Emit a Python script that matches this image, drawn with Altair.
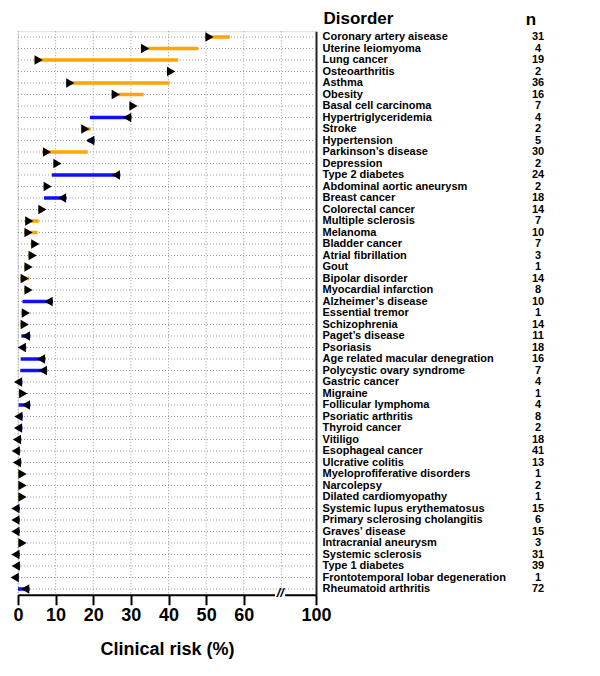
import altair as alt
import pandas as pd

disorders = [
    "Coronary artery aisease", "Uterine leiomyoma", "Lung cancer", "Osteoarthritis",
    "Asthma", "Obesity", "Basal cell carcinoma", "Hypertriglyceridemia", "Stroke",
    "Hypertension", "Parkinson\u2019s disease", "Depression", "Type 2 diabetes",
    "Abdominal aortic aneurysm", "Breast cancer", "Colorectal cancer", "Multiple sclerosis",
    "Melanoma", "Bladder cancer", "Atrial fibrillation", "Gout", "Bipolar disorder",
    "Myocardial infarction", "Alzheimer\u2019s disease", "Essential tremor", "Schizophrenia",
    "Paget\u2019s disease", "Psoriasis", "Age related macular denegration",
    "Polycystic ovary syndrome", "Gastric cancer", "Migraine", "Follicular lymphoma",
    "Psoriatic arthritis", "Thyroid cancer", "Vitiligo", "Esophageal cancer",
    "Ulcrative colitis", "Myeloprofiferative disorders", "Narcolepsy",
    "Dilated cardiomyopathy", "Systemic lupus erythematosus",
    "Primary sclerosing cholangitis", "Graves\u2019 disease", "Intracranial aneurysm",
    "Systemic sclerosis", "Type 1 diabetes", "Frontotemporal lobar degeneration",
    "Rheumatoid arthritis",
]
n_values = [31, 4, 19, 2, 36, 16, 7, 4, 2, 5, 30, 2, 24, 2, 18, 14, 7, 10, 7, 3, 1, 14, 8,
            10, 1, 14, 11, 18, 16, 7, 4, 1, 4, 8, 2, 18, 41, 13, 1, 2, 1, 15, 6, 15, 3, 31,
            39, 1, 72]
# triangle position (baseline risk, %)
baseline = [49.7, 32.6, 4.3, 39.5, 12.7, 24.8, 29.5, 30.2, 16.7, 20.4, 6.5, 9.3, 27.2,
            6.7, 12.9, 5.3, 1.8, 1.6, 3.4, 2.7, 1.6, 0.6, 1.6, 9.3, 0.9, 0.6, 3.3, 2.2,
            7.3, 7.8, 1.2, 0.2, 3.3, 1.3, 1.2, 0.9, 0.6, 0.9, 0.0, 0.0, 0.0, 0.5, 0.5,
            0.5, 0.0, 0.5, 0.6, 0.3, 3.1]
# bar end (risk, %)
risk = [56.3, 47.9, 42.6, 40.5, 40.3, 33.4, 30.5, 19.1, 19.3, 18.5, 18.5, 9.8, 9.0,
        7.2, 6.9, 5.8, 5.5, 5.2, 3.9, 3.0, 1.9, 3.0, 2.0, 1.2, 1.2, 1.0, 0.9, 1.5,
        0.7, 0.6, 0.8, 0.6, 0.2, 0.8, 0.8, 0.5, 0.3, 0.5, 0.3, 0.3, 0.3, 0.2, 0.2,
        0.2, 0.3, 0.2, 0.3, 0.1, 0.0]

grid_vals = [0, 10, 20, 30, 40, 50, 60, 70]
tick_vals = [0, 10, 20, 30, 40, 50, 60, 79.2]
break_lo, break_hi, break_mid = 68.3, 71.0, 69.7

ORANGE = "#FFA500"
BLUE = "#1010FF"
FONT = "Liberation Sans"

df = pd.DataFrame({"disorder": disorders, "n": n_values, "start": baseline, "end": risk})
df["dir"] = ["up" if e >= s else "down" for s, e in zip(baseline, risk)]

W = 298
H = 563.5

xscale = alt.Scale(domain=[0, 79.2], nice=False, zero=False)
xaxis = alt.Axis(
    values=tick_vals, grid=False, title="Clinical risk (%)",
    labelExpr="datum.value > 70 ? '100' : datum.label",
    domainColor="black", domainWidth=2, tickColor="black", tickWidth=2, tickSize=10,
    labelFont=FONT, labelFontSize=18, labelFontWeight="bold", labelColor="black",
    labelPadding=2, labelFlush=False,
    titleFont=FONT, titleFontSize=18, titleFontWeight="bold", titleColor="black",
    titlePadding=16,
)
yaxis = alt.Axis(
    orient="right", ticks=False, grid=False, domainColor="#222222", domainWidth=2,
    labelFont=FONT, labelFontSize=11, labelFontWeight="bold", labelColor="black",
    labelAlign="left", labelPadding=6, labelLimit=320,
    title="Disorder", titleAngle=0, titleAlign="left", titleBaseline="alphabetic",
    titleX=7, titleY=-8, titleFont=FONT, titleFontSize=17, titleFontWeight="bold",
    titleColor="black",
)
y_enc = alt.Y("disorder:N", sort=disorders,
              scale=alt.Scale(domain=disorders, paddingInner=0, paddingOuter=0),
              axis=yaxis)

base = alt.Chart(df)

hgrid = base.mark_rule(color="#9a9a9a", strokeDash=[1, 2], strokeWidth=1).encode(
    y=y_enc, x=alt.value(0), x2=alt.value(W))

vgrid = alt.Chart(pd.DataFrame({"g": grid_vals})).mark_rule(
    color="#9a9a9a", strokeDash=[1, 2], strokeWidth=1).encode(
    x=alt.X("g:Q", scale=xscale, axis=xaxis))

bars = base.mark_rule(strokeWidth=3.5).encode(
    y=y_enc,
    x=alt.X("start:Q", scale=xscale, axis=xaxis),
    x2="end:Q",
    color=alt.Color("dir:N", scale=alt.Scale(domain=["up", "down"], range=[ORANGE, BLUE]),
                    legend=None),
)

tri_up = base.transform_filter("datum.dir == 'up'").mark_point(
    shape="triangle-right", filled=True, color="black", opacity=1, size=90, xOffset=4.5
).encode(y=y_enc, x=alt.X("start:Q", scale=xscale, axis=xaxis))

tri_down = base.transform_filter("datum.dir == 'down'").mark_point(
    shape="triangle-left", filled=True, color="black", opacity=1, size=90, xOffset=-4.5
).encode(y=y_enc, x=alt.X("start:Q", scale=xscale, axis=xaxis))

n_text = base.mark_text(align="center", baseline="middle", font=FONT, fontSize=11,
                        fontWeight="bold", color="black").encode(
    y=y_enc, x=alt.value(520), text="n:N")

brk = alt.Chart(pd.DataFrame({"a": [break_lo], "b": [break_hi], "m": [break_mid]}))
brk_gap = brk.mark_rule(color="white", strokeWidth=5).encode(
    x=alt.X("a:Q", scale=xscale, axis=xaxis), x2="b:Q", y=alt.value(H))
brk_mark = brk.mark_text(text="//", font=FONT, fontSize=13, fontStyle="italic",
                         fontWeight="bold", color="black", baseline="middle").encode(
    x=alt.X("m:Q", scale=xscale, axis=xaxis), y=alt.value(H - 2))

n_head = alt.Chart(pd.DataFrame({"t": ["n"]})).mark_text(
    font=FONT, fontSize=17, fontWeight="bold", color="black", align="center",
    baseline="alphabetic").encode(x=alt.value(513), y=alt.value(-6.5), text="t:N")

chart = alt.layer(hgrid, vgrid, bars, tri_up, tri_down, n_text, brk_gap, brk_mark, n_head
).properties(
    width=W, height=H,
    padding={"left": 10, "top": 23.25, "right": 262, "bottom": 74},
    autosize=alt.AutoSizeParams(type="none"),
).configure_view(stroke=None).configure(background="white")

chart.save("out.html", embed_options={"renderer": "svg", "actions": False})
